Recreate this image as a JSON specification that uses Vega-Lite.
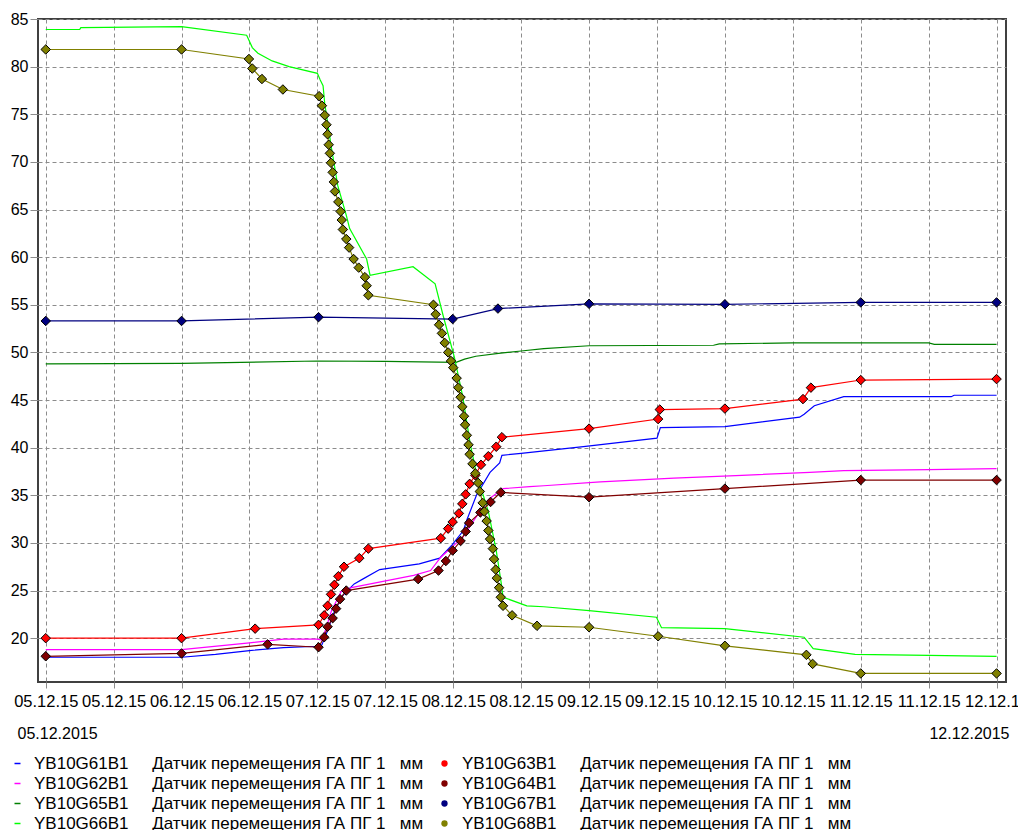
{
  "$schema": "https://vega.github.io/schema/vega-lite/v6.json",
  "width": 968,
  "height": 663,
  "autosize": {"type": "none"},
  "padding": {"left": 38, "top": 19, "right": 12, "bottom": 148},
  "background": "white",
  "config": {
    "font": "Liberation Sans",
    "view": {"stroke": "#404040", "strokeWidth": 2},
    "axis": {
      "labelFontSize": 16,
      "labelColor": "#000000",
      "labelFont": "Liberation Sans",
      "grid": true,
      "gridColor": "#8c8c8c",
      "gridDash": [4, 3],
      "gridWidth": 1,
      "tickColor": "#8c8c8c",
      "domain": false
    },
    "legend": {
      "labelFontSize": 17,
      "labelFont": "Liberation Sans",
      "labelColor": "#000000",
      "labelLimit": 800
    }
  },
  "datasets": {
    "lines": [
      {"id": "YB10G61B1", "t": "2015-12-05T00:00", "v": 18.0},
      {"id": "YB10G61B1", "t": "2015-12-06T00:00", "v": 18.0},
      {"id": "YB10G61B1", "t": "2015-12-06T06:00", "v": 18.3},
      {"id": "YB10G61B1", "t": "2015-12-06T12:00", "v": 18.7},
      {"id": "YB10G61B1", "t": "2015-12-06T18:00", "v": 19.0},
      {"id": "YB10G61B1", "t": "2015-12-07T00:00", "v": 19.15},
      {"id": "YB10G61B1", "t": "2015-12-07T00:48", "v": 19.3},
      {"id": "YB10G61B1", "t": "2015-12-07T01:48", "v": 20.8},
      {"id": "YB10G61B1", "t": "2015-12-07T03:00", "v": 22.8},
      {"id": "YB10G61B1", "t": "2015-12-07T04:30", "v": 24.5},
      {"id": "YB10G61B1", "t": "2015-12-07T06:30", "v": 25.7},
      {"id": "YB10G61B1", "t": "2015-12-07T08:00", "v": 26.2},
      {"id": "YB10G61B1", "t": "2015-12-07T11:00", "v": 27.2},
      {"id": "YB10G61B1", "t": "2015-12-07T18:00", "v": 27.8},
      {"id": "YB10G61B1", "t": "2015-12-07T21:36", "v": 28.4},
      {"id": "YB10G61B1", "t": "2015-12-07T23:48", "v": 29.8},
      {"id": "YB10G61B1", "t": "2015-12-08T01:48", "v": 31.3},
      {"id": "YB10G61B1", "t": "2015-12-08T02:24", "v": 32.4},
      {"id": "YB10G61B1", "t": "2015-12-08T04:06", "v": 35.0},
      {"id": "YB10G61B1", "t": "2015-12-08T06:30", "v": 37.4},
      {"id": "YB10G61B1", "t": "2015-12-08T08:12", "v": 38.4},
      {"id": "YB10G61B1", "t": "2015-12-08T08:36", "v": 39.2},
      {"id": "YB10G61B1", "t": "2015-12-08T12:00", "v": 39.4},
      {"id": "YB10G61B1", "t": "2015-12-08T23:00", "v": 40.1},
      {"id": "YB10G61B1", "t": "2015-12-09T12:00", "v": 41.0},
      {"id": "YB10G61B1", "t": "2015-12-09T12:36", "v": 42.1},
      {"id": "YB10G61B1", "t": "2015-12-10T00:00", "v": 42.2},
      {"id": "YB10G61B1", "t": "2015-12-10T13:12", "v": 43.2},
      {"id": "YB10G61B1", "t": "2015-12-10T14:00", "v": 43.5},
      {"id": "YB10G61B1", "t": "2015-12-10T15:48", "v": 44.4},
      {"id": "YB10G61B1", "t": "2015-12-10T21:00", "v": 45.35},
      {"id": "YB10G61B1", "t": "2015-12-11T16:00", "v": 45.35},
      {"id": "YB10G61B1", "t": "2015-12-11T16:30", "v": 45.5},
      {"id": "YB10G61B1", "t": "2015-12-12T00:00", "v": 45.5},
      {"id": "YB10G62B1", "t": "2015-12-05T00:00", "v": 18.8},
      {"id": "YB10G62B1", "t": "2015-12-06T00:00", "v": 18.8},
      {"id": "YB10G62B1", "t": "2015-12-06T12:00", "v": 19.5},
      {"id": "YB10G62B1", "t": "2015-12-06T18:00", "v": 19.9},
      {"id": "YB10G62B1", "t": "2015-12-07T00:00", "v": 19.9},
      {"id": "YB10G62B1", "t": "2015-12-07T00:48", "v": 19.8},
      {"id": "YB10G62B1", "t": "2015-12-07T01:30", "v": 21.0},
      {"id": "YB10G62B1", "t": "2015-12-07T02:30", "v": 22.9},
      {"id": "YB10G62B1", "t": "2015-12-07T04:12", "v": 24.9},
      {"id": "YB10G62B1", "t": "2015-12-07T06:00", "v": 25.3},
      {"id": "YB10G62B1", "t": "2015-12-07T17:00", "v": 26.6},
      {"id": "YB10G62B1", "t": "2015-12-07T20:00", "v": 27.1},
      {"id": "YB10G62B1", "t": "2015-12-07T21:48", "v": 28.5},
      {"id": "YB10G62B1", "t": "2015-12-08T01:42", "v": 30.6},
      {"id": "YB10G62B1", "t": "2015-12-08T04:42", "v": 33.3},
      {"id": "YB10G62B1", "t": "2015-12-08T06:30", "v": 34.7},
      {"id": "YB10G62B1", "t": "2015-12-08T08:48", "v": 35.7},
      {"id": "YB10G62B1", "t": "2015-12-08T13:30", "v": 35.9},
      {"id": "YB10G62B1", "t": "2015-12-08T16:00", "v": 36.0},
      {"id": "YB10G62B1", "t": "2015-12-09T02:00", "v": 36.4},
      {"id": "YB10G62B1", "t": "2015-12-09T15:00", "v": 36.8},
      {"id": "YB10G62B1", "t": "2015-12-10T03:00", "v": 37.1},
      {"id": "YB10G62B1", "t": "2015-12-10T15:00", "v": 37.4},
      {"id": "YB10G62B1", "t": "2015-12-10T21:00", "v": 37.6},
      {"id": "YB10G62B1", "t": "2015-12-11T12:00", "v": 37.7},
      {"id": "YB10G62B1", "t": "2015-12-12T00:00", "v": 37.8},
      {"id": "YB10G65B1", "t": "2015-12-05T00:00", "v": 48.8},
      {"id": "YB10G65B1", "t": "2015-12-06T00:00", "v": 48.85},
      {"id": "YB10G65B1", "t": "2015-12-07T00:00", "v": 49.1},
      {"id": "YB10G65B1", "t": "2015-12-07T12:00", "v": 49.05},
      {"id": "YB10G65B1", "t": "2015-12-08T00:30", "v": 48.95},
      {"id": "YB10G65B1", "t": "2015-12-08T02:00", "v": 49.3},
      {"id": "YB10G65B1", "t": "2015-12-08T04:00", "v": 49.6},
      {"id": "YB10G65B1", "t": "2015-12-08T08:00", "v": 49.9},
      {"id": "YB10G65B1", "t": "2015-12-08T12:00", "v": 50.15},
      {"id": "YB10G65B1", "t": "2015-12-08T16:00", "v": 50.4},
      {"id": "YB10G65B1", "t": "2015-12-09T00:00", "v": 50.7},
      {"id": "YB10G65B1", "t": "2015-12-09T22:00", "v": 50.75},
      {"id": "YB10G65B1", "t": "2015-12-09T23:00", "v": 50.9},
      {"id": "YB10G65B1", "t": "2015-12-10T12:00", "v": 51.0},
      {"id": "YB10G65B1", "t": "2015-12-11T12:00", "v": 51.0},
      {"id": "YB10G65B1", "t": "2015-12-11T13:00", "v": 50.85},
      {"id": "YB10G65B1", "t": "2015-12-12T00:00", "v": 50.85},
      {"id": "YB10G66B1", "t": "2015-12-05T00:00", "v": 83.9},
      {"id": "YB10G66B1", "t": "2015-12-05T06:00", "v": 83.9},
      {"id": "YB10G66B1", "t": "2015-12-05T06:12", "v": 84.1},
      {"id": "YB10G66B1", "t": "2015-12-06T00:00", "v": 84.2},
      {"id": "YB10G66B1", "t": "2015-12-06T11:30", "v": 83.3},
      {"id": "YB10G66B1", "t": "2015-12-06T12:30", "v": 82.0},
      {"id": "YB10G66B1", "t": "2015-12-06T13:30", "v": 81.4},
      {"id": "YB10G66B1", "t": "2015-12-06T16:00", "v": 80.6},
      {"id": "YB10G66B1", "t": "2015-12-06T19:00", "v": 80.0},
      {"id": "YB10G66B1", "t": "2015-12-07T00:00", "v": 79.3},
      {"id": "YB10G66B1", "t": "2015-12-07T00:30", "v": 78.6},
      {"id": "YB10G66B1", "t": "2015-12-07T01:00", "v": 78.0},
      {"id": "YB10G66B1", "t": "2015-12-07T01:18", "v": 76.1},
      {"id": "YB10G66B1", "t": "2015-12-07T02:30", "v": 71.4},
      {"id": "YB10G66B1", "t": "2015-12-07T03:36", "v": 67.5},
      {"id": "YB10G66B1", "t": "2015-12-07T05:06", "v": 64.4},
      {"id": "YB10G66B1", "t": "2015-12-07T05:42", "v": 63.0},
      {"id": "YB10G66B1", "t": "2015-12-07T08:42", "v": 59.8},
      {"id": "YB10G66B1", "t": "2015-12-07T09:18", "v": 58.1},
      {"id": "YB10G66B1", "t": "2015-12-07T16:54", "v": 59.0},
      {"id": "YB10G66B1", "t": "2015-12-07T20:48", "v": 57.2},
      {"id": "YB10G66B1", "t": "2015-12-07T22:12", "v": 53.9},
      {"id": "YB10G66B1", "t": "2015-12-08T00:12", "v": 49.5},
      {"id": "YB10G66B1", "t": "2015-12-08T01:42", "v": 45.3},
      {"id": "YB10G66B1", "t": "2015-12-08T03:00", "v": 40.4},
      {"id": "YB10G66B1", "t": "2015-12-08T04:06", "v": 37.3},
      {"id": "YB10G66B1", "t": "2015-12-08T06:12", "v": 33.3},
      {"id": "YB10G66B1", "t": "2015-12-08T07:36", "v": 29.2},
      {"id": "YB10G66B1", "t": "2015-12-08T08:30", "v": 25.7},
      {"id": "YB10G66B1", "t": "2015-12-08T08:48", "v": 24.3},
      {"id": "YB10G66B1", "t": "2015-12-08T13:00", "v": 23.4},
      {"id": "YB10G66B1", "t": "2015-12-08T16:00", "v": 23.3},
      {"id": "YB10G66B1", "t": "2015-12-09T00:00", "v": 22.9},
      {"id": "YB10G66B1", "t": "2015-12-09T11:54", "v": 22.2},
      {"id": "YB10G66B1", "t": "2015-12-09T12:48", "v": 21.1},
      {"id": "YB10G66B1", "t": "2015-12-10T00:00", "v": 21.0},
      {"id": "YB10G66B1", "t": "2015-12-10T14:00", "v": 20.1},
      {"id": "YB10G66B1", "t": "2015-12-10T15:36", "v": 18.9},
      {"id": "YB10G66B1", "t": "2015-12-10T23:00", "v": 18.3},
      {"id": "YB10G66B1", "t": "2015-12-11T12:00", "v": 18.2},
      {"id": "YB10G66B1", "t": "2015-12-12T00:00", "v": 18.1}
    ],
    "markers": [
      {"id": "YB10G63B1", "t": "2015-12-05T00:00", "v": 20.0},
      {"id": "YB10G63B1", "t": "2015-12-06T00:00", "v": 20.0},
      {"id": "YB10G63B1", "t": "2015-12-06T13:00", "v": 21.0},
      {"id": "YB10G63B1", "t": "2015-12-07T00:12", "v": 21.4},
      {"id": "YB10G63B1", "t": "2015-12-07T01:12", "v": 22.4},
      {"id": "YB10G63B1", "t": "2015-12-07T01:48", "v": 23.4},
      {"id": "YB10G63B1", "t": "2015-12-07T02:24", "v": 24.6},
      {"id": "YB10G63B1", "t": "2015-12-07T03:00", "v": 25.6},
      {"id": "YB10G63B1", "t": "2015-12-07T03:42", "v": 26.5},
      {"id": "YB10G63B1", "t": "2015-12-07T04:42", "v": 27.5},
      {"id": "YB10G63B1", "t": "2015-12-07T07:24", "v": 28.4},
      {"id": "YB10G63B1", "t": "2015-12-07T09:00", "v": 29.4},
      {"id": "YB10G63B1", "t": "2015-12-07T21:48", "v": 30.5},
      {"id": "YB10G63B1", "t": "2015-12-07T23:06", "v": 31.5},
      {"id": "YB10G63B1", "t": "2015-12-07T23:54", "v": 32.2},
      {"id": "YB10G63B1", "t": "2015-12-08T01:00", "v": 33.1},
      {"id": "YB10G63B1", "t": "2015-12-08T01:36", "v": 34.1},
      {"id": "YB10G63B1", "t": "2015-12-08T02:12", "v": 35.1},
      {"id": "YB10G63B1", "t": "2015-12-08T02:54", "v": 36.2},
      {"id": "YB10G63B1", "t": "2015-12-08T03:54", "v": 37.1},
      {"id": "YB10G63B1", "t": "2015-12-08T04:54", "v": 38.2},
      {"id": "YB10G63B1", "t": "2015-12-08T06:12", "v": 39.1},
      {"id": "YB10G63B1", "t": "2015-12-08T07:36", "v": 40.1},
      {"id": "YB10G63B1", "t": "2015-12-08T08:36", "v": 41.1},
      {"id": "YB10G63B1", "t": "2015-12-09T00:00", "v": 42.0},
      {"id": "YB10G63B1", "t": "2015-12-09T12:12", "v": 43.0},
      {"id": "YB10G63B1", "t": "2015-12-09T12:30", "v": 44.0},
      {"id": "YB10G63B1", "t": "2015-12-10T00:00", "v": 44.1},
      {"id": "YB10G63B1", "t": "2015-12-10T13:48", "v": 45.1},
      {"id": "YB10G63B1", "t": "2015-12-10T15:12", "v": 46.3},
      {"id": "YB10G63B1", "t": "2015-12-11T00:00", "v": 47.1},
      {"id": "YB10G63B1", "t": "2015-12-12T00:00", "v": 47.2},
      {"id": "YB10G64B1", "t": "2015-12-05T00:00", "v": 18.1},
      {"id": "YB10G64B1", "t": "2015-12-06T00:00", "v": 18.4},
      {"id": "YB10G64B1", "t": "2015-12-06T15:12", "v": 19.35},
      {"id": "YB10G64B1", "t": "2015-12-07T00:12", "v": 19.05},
      {"id": "YB10G64B1", "t": "2015-12-07T01:12", "v": 20.1},
      {"id": "YB10G64B1", "t": "2015-12-07T01:48", "v": 21.2},
      {"id": "YB10G64B1", "t": "2015-12-07T02:42", "v": 22.1},
      {"id": "YB10G64B1", "t": "2015-12-07T03:18", "v": 23.1},
      {"id": "YB10G64B1", "t": "2015-12-07T04:00", "v": 24.1},
      {"id": "YB10G64B1", "t": "2015-12-07T05:06", "v": 25.0},
      {"id": "YB10G64B1", "t": "2015-12-07T17:48", "v": 26.2},
      {"id": "YB10G64B1", "t": "2015-12-07T21:24", "v": 27.1},
      {"id": "YB10G64B1", "t": "2015-12-07T22:42", "v": 28.1},
      {"id": "YB10G64B1", "t": "2015-12-07T23:54", "v": 29.2},
      {"id": "YB10G64B1", "t": "2015-12-08T01:18", "v": 30.2},
      {"id": "YB10G64B1", "t": "2015-12-08T02:12", "v": 31.2},
      {"id": "YB10G64B1", "t": "2015-12-08T02:48", "v": 32.1},
      {"id": "YB10G64B1", "t": "2015-12-08T04:48", "v": 33.2},
      {"id": "YB10G64B1", "t": "2015-12-08T06:36", "v": 34.3},
      {"id": "YB10G64B1", "t": "2015-12-08T08:24", "v": 35.3},
      {"id": "YB10G64B1", "t": "2015-12-09T00:00", "v": 34.8},
      {"id": "YB10G64B1", "t": "2015-12-10T00:00", "v": 35.7},
      {"id": "YB10G64B1", "t": "2015-12-11T00:00", "v": 36.6},
      {"id": "YB10G64B1", "t": "2015-12-12T00:00", "v": 36.6},
      {"id": "YB10G67B1", "t": "2015-12-05T00:00", "v": 53.3},
      {"id": "YB10G67B1", "t": "2015-12-06T00:00", "v": 53.3},
      {"id": "YB10G67B1", "t": "2015-12-07T00:12", "v": 53.7},
      {"id": "YB10G67B1", "t": "2015-12-07T23:54", "v": 53.5},
      {"id": "YB10G67B1", "t": "2015-12-08T07:54", "v": 54.6},
      {"id": "YB10G67B1", "t": "2015-12-09T00:00", "v": 55.1},
      {"id": "YB10G67B1", "t": "2015-12-10T00:00", "v": 55.05},
      {"id": "YB10G67B1", "t": "2015-12-11T00:00", "v": 55.25},
      {"id": "YB10G67B1", "t": "2015-12-12T00:00", "v": 55.25},
      {"id": "YB10G68B1", "t": "2015-12-05T00:00", "v": 81.8},
      {"id": "YB10G68B1", "t": "2015-12-06T00:00", "v": 81.8},
      {"id": "YB10G68B1", "t": "2015-12-06T11:54", "v": 80.8},
      {"id": "YB10G68B1", "t": "2015-12-06T12:30", "v": 79.8},
      {"id": "YB10G68B1", "t": "2015-12-06T14:12", "v": 78.7},
      {"id": "YB10G68B1", "t": "2015-12-06T17:54", "v": 77.6},
      {"id": "YB10G68B1", "t": "2015-12-07T00:18", "v": 76.9},
      {"id": "YB10G68B1", "t": "2015-12-07T00:48", "v": 75.9},
      {"id": "YB10G68B1", "t": "2015-12-07T01:18", "v": 74.9},
      {"id": "YB10G68B1", "t": "2015-12-07T01:36", "v": 73.9},
      {"id": "YB10G68B1", "t": "2015-12-07T01:48", "v": 72.9},
      {"id": "YB10G68B1", "t": "2015-12-07T02:00", "v": 71.8},
      {"id": "YB10G68B1", "t": "2015-12-07T02:12", "v": 70.9},
      {"id": "YB10G68B1", "t": "2015-12-07T02:24", "v": 69.9},
      {"id": "YB10G68B1", "t": "2015-12-07T02:42", "v": 68.9},
      {"id": "YB10G68B1", "t": "2015-12-07T02:54", "v": 67.9},
      {"id": "YB10G68B1", "t": "2015-12-07T03:06", "v": 66.9},
      {"id": "YB10G68B1", "t": "2015-12-07T03:42", "v": 65.8},
      {"id": "YB10G68B1", "t": "2015-12-07T04:06", "v": 64.8},
      {"id": "YB10G68B1", "t": "2015-12-07T04:18", "v": 63.9},
      {"id": "YB10G68B1", "t": "2015-12-07T04:30", "v": 62.9},
      {"id": "YB10G68B1", "t": "2015-12-07T05:06", "v": 61.9},
      {"id": "YB10G68B1", "t": "2015-12-07T05:36", "v": 61.0},
      {"id": "YB10G68B1", "t": "2015-12-07T06:24", "v": 59.8},
      {"id": "YB10G68B1", "t": "2015-12-07T07:18", "v": 58.9},
      {"id": "YB10G68B1", "t": "2015-12-07T08:24", "v": 57.9},
      {"id": "YB10G68B1", "t": "2015-12-07T08:42", "v": 57.0},
      {"id": "YB10G68B1", "t": "2015-12-07T09:00", "v": 56.0},
      {"id": "YB10G68B1", "t": "2015-12-07T20:30", "v": 55.0},
      {"id": "YB10G68B1", "t": "2015-12-07T20:54", "v": 54.0},
      {"id": "YB10G68B1", "t": "2015-12-07T21:30", "v": 52.9},
      {"id": "YB10G68B1", "t": "2015-12-07T22:00", "v": 52.0},
      {"id": "YB10G68B1", "t": "2015-12-07T22:30", "v": 51.0},
      {"id": "YB10G68B1", "t": "2015-12-07T23:06", "v": 50.0},
      {"id": "YB10G68B1", "t": "2015-12-07T23:36", "v": 49.1},
      {"id": "YB10G68B1", "t": "2015-12-08T00:00", "v": 48.4},
      {"id": "YB10G68B1", "t": "2015-12-08T00:36", "v": 47.3},
      {"id": "YB10G68B1", "t": "2015-12-08T00:54", "v": 46.3},
      {"id": "YB10G68B1", "t": "2015-12-08T01:18", "v": 45.3},
      {"id": "YB10G68B1", "t": "2015-12-08T01:36", "v": 44.3},
      {"id": "YB10G68B1", "t": "2015-12-08T01:54", "v": 43.3},
      {"id": "YB10G68B1", "t": "2015-12-08T02:06", "v": 42.4},
      {"id": "YB10G68B1", "t": "2015-12-08T02:24", "v": 41.3},
      {"id": "YB10G68B1", "t": "2015-12-08T02:42", "v": 40.3},
      {"id": "YB10G68B1", "t": "2015-12-08T02:54", "v": 39.3},
      {"id": "YB10G68B1", "t": "2015-12-08T03:24", "v": 38.3},
      {"id": "YB10G68B1", "t": "2015-12-08T03:54", "v": 37.3},
      {"id": "YB10G68B1", "t": "2015-12-08T04:24", "v": 36.3},
      {"id": "YB10G68B1", "t": "2015-12-08T04:42", "v": 35.4},
      {"id": "YB10G68B1", "t": "2015-12-08T05:12", "v": 34.2},
      {"id": "YB10G68B1", "t": "2015-12-08T05:30", "v": 33.3},
      {"id": "YB10G68B1", "t": "2015-12-08T05:54", "v": 32.3},
      {"id": "YB10G68B1", "t": "2015-12-08T06:12", "v": 31.3},
      {"id": "YB10G68B1", "t": "2015-12-08T06:30", "v": 30.4},
      {"id": "YB10G68B1", "t": "2015-12-08T07:00", "v": 29.4},
      {"id": "YB10G68B1", "t": "2015-12-08T07:12", "v": 28.3},
      {"id": "YB10G68B1", "t": "2015-12-08T07:30", "v": 27.2},
      {"id": "YB10G68B1", "t": "2015-12-08T07:42", "v": 26.3},
      {"id": "YB10G68B1", "t": "2015-12-08T08:06", "v": 25.3},
      {"id": "YB10G68B1", "t": "2015-12-08T08:24", "v": 24.3},
      {"id": "YB10G68B1", "t": "2015-12-08T08:48", "v": 23.4},
      {"id": "YB10G68B1", "t": "2015-12-08T10:24", "v": 22.4},
      {"id": "YB10G68B1", "t": "2015-12-08T14:48", "v": 21.3},
      {"id": "YB10G68B1", "t": "2015-12-09T00:00", "v": 21.15},
      {"id": "YB10G68B1", "t": "2015-12-09T12:12", "v": 20.2},
      {"id": "YB10G68B1", "t": "2015-12-10T00:00", "v": 19.2},
      {"id": "YB10G68B1", "t": "2015-12-10T14:24", "v": 18.25},
      {"id": "YB10G68B1", "t": "2015-12-10T15:30", "v": 17.3},
      {"id": "YB10G68B1", "t": "2015-12-11T00:00", "v": 16.3},
      {"id": "YB10G68B1", "t": "2015-12-12T00:00", "v": 16.3}
    ]
  },
  "layer": [
    {
      "data": {"name": "lines"},
      "mark": {"type": "line", "strokeWidth": 1.2},
      "encoding": {
        "x": {
          "field": "t",
          "type": "temporal",
          "scale": {
            "domain": [
              {"year": 2015, "month": 12, "date": 4, "hours": 22, "minutes": 38},
              {"year": 2015, "month": 12, "date": 12, "hours": 1, "minutes": 40}
            ],
            "nice": false
          },
          "axis": {
            "orient": "bottom",
            "format": "%d.%m.%y",
            "values": [
              {"year": 2015, "month": 12, "date": 5, "hours": 0},
              {"year": 2015, "month": 12, "date": 5, "hours": 12},
              {"year": 2015, "month": 12, "date": 6, "hours": 0},
              {"year": 2015, "month": 12, "date": 6, "hours": 12},
              {"year": 2015, "month": 12, "date": 7, "hours": 0},
              {"year": 2015, "month": 12, "date": 7, "hours": 12},
              {"year": 2015, "month": 12, "date": 8, "hours": 0},
              {"year": 2015, "month": 12, "date": 8, "hours": 12},
              {"year": 2015, "month": 12, "date": 9, "hours": 0},
              {"year": 2015, "month": 12, "date": 9, "hours": 12},
              {"year": 2015, "month": 12, "date": 10, "hours": 0},
              {"year": 2015, "month": 12, "date": 10, "hours": 12},
              {"year": 2015, "month": 12, "date": 11, "hours": 0},
              {"year": 2015, "month": 12, "date": 11, "hours": 12},
              {"year": 2015, "month": 12, "date": 12, "hours": 0}
            ],
            "labelFontSize": 16.5,
            "labelOverlap": false,
            "labelFlush": false,
            "labelBound": false,
            "tickSize": 6,
            "labelPadding": 5,
            "title": "05.12.2015",
            "titleFontSize": 16,
            "titleFontWeight": "normal",
            "titleColor": "#000000",
            "titleFont": "Liberation Sans",
            "titleAnchor": "start",
            "titleAlign": "left",
            "titleBaseline": "middle",
            "titleX": -21,
            "titleY": 51
          }
        },
        "y": {
          "field": "v",
          "type": "quantitative",
          "scale": {"domain": [15.4, 85], "nice": false, "zero": false},
          "axis": {
            "values": [20, 25, 30, 35, 40, 45, 50, 55, 60, 65, 70, 75, 80, 85],
            "tickSize": 8,
            "labelPadding": 2,
            "title": null
          }
        },
        "color": {
          "field": "id",
          "type": "nominal",
          "scale": {
            "domain": ["YB10G61B1", "YB10G62B1", "YB10G65B1", "YB10G66B1"],
            "range": ["#0000ff", "#ff00ff", "#008000", "#00ff00"]
          },
          "legend": {
            "orient": "none",
            "legendX": -29,
            "legendY": 736,
            "title": null,
            "symbolType": "stroke",
            "symbolSize": 36,
            "symbolStrokeWidth": 1.5,
            "labelOffset": 8,
            "rowPadding": 2,
            "padding": 0,
            "labelExpr": "datum.label + '\u00a0\u00a0\u00a0\u00a0\u00a0Датчик перемещения ГА ПГ 1\u00a0\u00a0\u00a0мм'"
          }
        }
      }
    },
    {
      "data": {"name": "markers"},
      "encoding": {
        "x": {
          "field": "t",
          "type": "temporal",
          "scale": {
            "domain": [
              {"year": 2015, "month": 12, "date": 4, "hours": 22, "minutes": 38},
              {"year": 2015, "month": 12, "date": 12, "hours": 1, "minutes": 40}
            ],
            "nice": false
          },
          "axis": {
            "orient": "bottom",
            "labels": false,
            "ticks": false,
            "grid": false,
            "domain": false,
            "title": "12.12.2015",
            "titleFontSize": 16,
            "titleFontWeight": "normal",
            "titleColor": "#000000",
            "titleFont": "Liberation Sans",
            "titleAnchor": "end",
            "titleAlign": "right",
            "titleBaseline": "middle",
            "titleX": 971,
            "titleY": 51
          }
        },
        "y": {"field": "v", "type": "quantitative"},
        "color": {
          "field": "id",
          "type": "nominal",
          "scale": {
            "domain": ["YB10G63B1", "YB10G64B1", "YB10G67B1", "YB10G68B1"],
            "range": ["#ff0000", "#800000", "#000080", "#808000"]
          },
          "legend": {
            "orient": "none",
            "legendX": 398,
            "legendY": 736,
            "title": null,
            "symbolType": "circle",
            "symbolSize": 40,
            "symbolStrokeWidth": 0,
            "labelOffset": 9,
            "rowPadding": 2,
            "padding": 0,
            "labelExpr": "datum.label + '\u00a0\u00a0\u00a0\u00a0\u00a0Датчик перемещения ГА ПГ 1\u00a0\u00a0\u00a0мм'"
          }
        }
      },
      "layer": [
        {"mark": {"type": "line", "strokeWidth": 1.2}},
        {"mark": {"type": "point", "shape": "diamond", "filled": true, "size": 90, "stroke": "#000000", "strokeWidth": 1, "opacity": 1}}
      ]
    }
  ],
  "resolve": {
    "scale": {"color": "independent", "x": "independent"},
    "axis": {"x": "independent"},
    "legend": {"color": "independent"}
  }
}
